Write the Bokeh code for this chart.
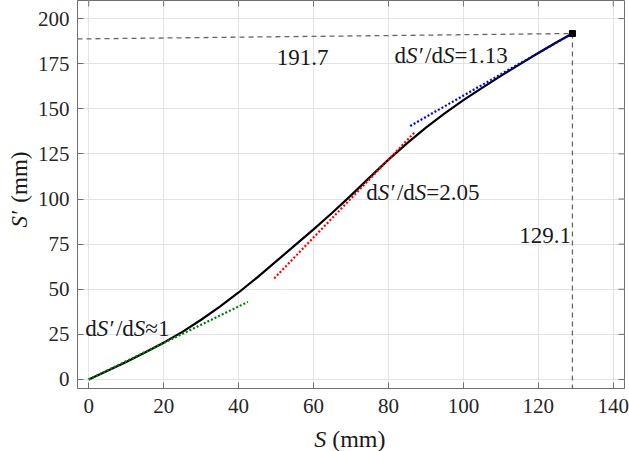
import math
from bokeh.plotting import figure
from bokeh.models import Range1d, Label, FixedTicker
from bokeh.layouts import row, column
from bokeh.embed import file_html
from bokeh.resources import INLINE

# ---- data ----
S = [0, 5, 10, 15, 20, 25, 30, 35, 40, 45, 50, 55, 60, 65, 70, 75, 80, 85,
     90, 95, 100, 105, 110, 115, 120, 125, 129.1]
Sp = [0, 4.8, 9.7, 14.9, 20.4, 26.4, 33.1, 40.4, 48.2, 56.6, 65.4, 74.3, 83.2,
      92.4, 102, 112, 121.8, 131, 139.6, 147.5, 154.8, 161.6, 168.2, 174.6,
      180.9, 187, 191.7]

tan1_x = [0, 42.5]
tan1_y = [0, 43]
tan2_x = [49.5, 87]
tan2_y = [56, 137]
tan3_x = [85.8, 129.1]
tan3_y = [140.5, 191.7]

end_x = [129.1]
end_y = [191.7]
hline_x = [-3, 129.1]
hline_y = [188.7, 191.7]
vline_x = [129.1, 129.1]
vline_y = [191.7, -5]

x_ticks = [0, 20, 40, 60, 80, 100, 120, 140]
y_ticks = [0, 25, 50, 75, 100, 125, 150, 175, 200]
X0, X1 = -3, 143
Y0, Y1 = -5, 210

FONT = "Liberation Serif"
TXT = "#1a1a1a"
AX = "#707070"

# layout sizes
YW = 34            # strip holding the y-axis title
XH = 28            # strip holding the x-axis title
W, H = 629, 451
MW, MH = W - YW, H - XH
BL, BR, BT, BB = 75 - YW, 5, 0, 35
FRAME_LEFT = YW + BL   # frames of a column are aligned by the layout

p = figure(width=MW, height=MH, output_backend="svg", toolbar_location=None,
           x_range=Range1d(X0, X1), y_range=Range1d(Y0, Y1),
           min_border_left=BL, min_border_right=BR, min_border_top=BT,
           min_border_bottom=BB)
p.background_fill_color = "white"
p.border_fill_color = "white"
p.outline_line_color = AX
p.outline_line_width = 1

for ax in (p.xaxis[0], p.yaxis[0]):
    ax.major_label_text_font = FONT
    ax.major_label_text_font_size = "21px"
    ax.major_label_text_color = "#262626"
    ax.axis_line_color = AX
    ax.major_tick_line_color = AX
    ax.major_tick_in = 6
    ax.major_tick_out = 0
    ax.minor_tick_line_color = None
p.xaxis[0].ticker = FixedTicker(ticks=x_ticks)
p.yaxis[0].ticker = FixedTicker(ticks=y_ticks)
p.xaxis[0].major_label_standoff = 10
p.yaxis[0].major_label_standoff = 8

p.xgrid.ticker = FixedTicker(ticks=x_ticks)
p.ygrid.ticker = FixedTicker(ticks=y_ticks)
p.grid.grid_line_color = "#e3e3e3"
p.grid.grid_line_width = 1

# inward ticks on the top and right sides of the box
fw = MW - BL - BR
fh = MH - BT - BB
tlx = 6 * (X1 - X0) / fw
tly = 6 * (Y1 - Y0) / fh
p.segment(x0=x_ticks, y0=[Y1] * len(x_ticks), x1=x_ticks,
          y1=[Y1 - tly] * len(x_ticks), line_color=AX, line_width=1)
p.segment(x0=[X1] * len(y_ticks), y0=y_ticks, x1=[X1 - tlx] * len(y_ticks),
          y1=y_ticks, line_color=AX, line_width=1)

# reference lines
p.line(hline_x, hline_y, line_color="#666666", line_width=1.3, line_dash="5 4")
p.line(vline_x, vline_y, line_color="#666666", line_width=1.3, line_dash="5 4")

# main curve
p.line(S, Sp, line_color="black", line_width=2.2)

# tangents
p.line(tan1_x, tan1_y, line_color="#008000", line_width=2.2, line_dash="2 2")
p.line(tan2_x, tan2_y, line_color="#ff0000", line_width=2.2, line_dash="2 2")
p.line(tan3_x, tan3_y, line_color="#0000ff", line_width=2.2, line_dash="2 2")

p.scatter(end_x, end_y, marker="square", size=6, color="black")

# ---- rich text helper ----
WID = {'d': 0.5, 'S': 0.556, '/': 0.278, '=': 0.564, '≈': 0.548, '.': 0.25,
       ' ': 0.25, '(': 0.333, ')': 0.333, 'm': 0.778, '′': 0.33}


def width(txt, ital):
    w = 0
    for c in txt:
        if c.isdigit():
            w += 0.5
        elif c == 'S' and ital:
            w += 0.5
        else:
            w += WID.get(c, 0.5)
    return w


def rich(fig, x, y, runs, size, angle=0.0, units="data"):
    off = 0.0
    for txt, ital in runs:
        lead = len(txt) - len(txt.lstrip(" "))
        off += lead * WID[' '] * size
        txt = txt.lstrip(" ")
        lab = Label(x=x, y=y, x_units=units, y_units=units, text=txt,
                    text_font=FONT,
                    text_font_style="italic" if ital else "normal",
                    text_font_size=f"{size}px", text_color=TXT,
                    text_baseline="middle", text_align="left", angle=angle)
        if angle == 0:
            lab.x_offset = off
        else:
            lab.y_offset = off
        fig.add_layout(lab)
        off += width(txt, ital) * size


def deriv(val):
    return [("d", False), ("S′", True), ("/d", False), ("S", True), (val, False)]


ann_x = [81.6, 74.1, -0.9]
ann_y = [179.4, 103.8, 28.2]
ann_t = ["=1.13", "=2.05", "≈1"]
for ax_, ay_, at_ in zip(ann_x, ann_y, ann_t):
    rich(p, ax_, ay_, deriv(at_), 23)

rich(p, 50.2, 178.3, [("191.7", False)], 23)
rich(p, 114.9, 79.8, [("129.1", False)], 23)


# ---- axis titles in thin strips beside the plot ----
def strip(w, h):
    f = figure(width=w, height=h, output_backend="svg", toolbar_location=None,
               x_range=Range1d(0, 1), y_range=Range1d(0, 1),
               x_axis_type=None, y_axis_type=None,
               min_border_left=0, min_border_right=0, min_border_top=0,
               min_border_bottom=0)
    f.outline_line_color = None
    f.background_fill_color = "white"
    f.border_fill_color = "white"
    f.grid.visible = False
    return f


xs = strip(MW, XH)
rich(xs, 311.7 - FRAME_LEFT, 13, [("S", True), (" (mm)", False)], 24,
     units="screen")

ys = strip(YW, H)
rich(ys, 19, H - 227, [("S′", True), (" (mm)", False)], 23, angle=math.pi / 2,
     units="screen")

layout = row(ys, column(p, xs, spacing=0), spacing=0)

open("out.html", "w").write(file_html(layout, INLINE))
